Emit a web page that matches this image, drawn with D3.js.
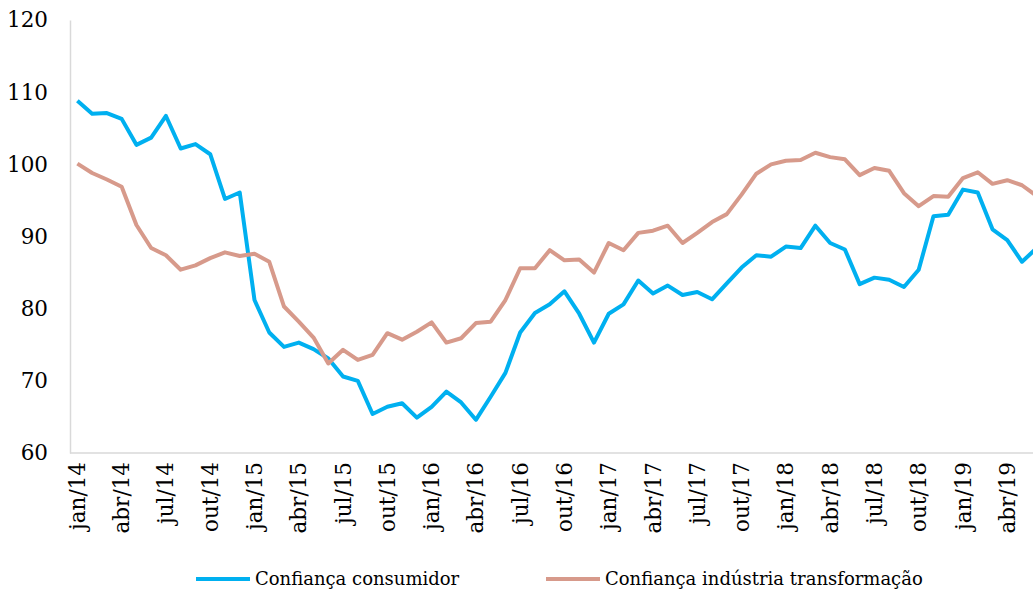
<!DOCTYPE html>
<html>
<head>
<meta charset="utf-8">
<script src="https://cdn.jsdelivr.net/npm/d3@7"></script>
<style>
  body { margin: 0; background: #fff; }
  svg { display: block; font-family: 'DejaVu Serif', serif; }
  .axis path { stroke: #d9d9d9; stroke-width: 1.5; }
  .axis text { fill: #000; }
</style>
</head>
<body>
<div id="chart"></div>
<script>
const monthNames = ['jan', 'fev', 'mar', 'abr', 'mai', 'jun', 'jul', 'ago', 'set', 'out', 'nov', 'dez'];
const years = ['14', '15', '16', '17', '18', '19'];

// jan/14 .. jun/19
const months = [];
years.forEach(y => monthNames.forEach((m, i) => {
  if (y !== '19' || i < 6) months.push(`${m}/${y}`);
}));

const consumidor = [
  108.8, 107.0, 107.1, 106.3, 102.7, 103.7, 106.7, 102.2, 102.8, 101.4, 95.2, 96.1,
  81.2, 76.7, 74.7, 75.3, 74.4, 73.1, 70.6, 70.0, 65.4, 66.4, 66.9, 64.9,
  66.4, 68.5, 67.0, 64.6, 67.8, 71.1, 76.7, 79.4, 80.6, 82.4, 79.3, 75.3,
  79.3, 80.6, 83.9, 82.1, 83.2, 81.9, 82.3, 81.3, 83.5, 85.7, 87.4, 87.2,
  88.6, 88.4, 91.5, 89.1, 88.2, 83.4, 84.3, 84.0, 83.0, 85.4, 92.8, 93.0,
  96.5, 96.1, 91.0, 89.5, 86.5, 88.4
];

const industria = [
  100.1, 98.8, 97.9, 96.9, 91.6, 88.4, 87.4, 85.4, 86.0, 87.0, 87.8, 87.3,
  87.6, 86.5, 80.3, 78.2, 76.0, 72.4, 74.3, 72.9, 73.6, 76.6, 75.7, 76.8,
  78.1, 75.3, 75.9, 78.0, 78.2, 81.2, 85.6, 85.6, 88.1, 86.7, 86.8, 85.0,
  89.1, 88.1, 90.5, 90.8, 91.5, 89.1, 90.5, 92.0, 93.1, 95.8, 98.7, 100.0,
  100.5, 100.6, 101.6, 101.0, 100.7, 98.5, 99.5, 99.1, 96.0, 94.2, 95.6, 95.5,
  98.1, 98.9, 97.3, 97.8, 97.1, 95.6
];

const yTicks = [60, 70, 80, 90, 100, 110, 120];

const series = [
  { name: 'Confiança consumidor', values: consumidor, color: '#00b0f0' },
  { name: 'Confiança indústria transformação', values: industria, color: '#d79a8b' }
];

const width = 1033;
const height = 591;
const margin = { left: 70, top: 20, bottom: 453 };
const step = 14.76;

const svg = d3.select('#chart')
  .append('svg')
    .attr('width', width)
    .attr('height', height);

const x = d3.scaleBand()
  .domain(months)
  .range([margin.left, margin.left + months.length * step])
  .padding(0);

const y = d3.scaleLinear()
  .domain([60, 120])
  .range([margin.bottom, margin.top]);

const xAxis = d3.axisBottom(x)
  .tickValues(months.filter((d, i) => i % 3 === 0))
  .tickSize(0)
  .tickPadding(0);

const yAxis = d3.axisLeft(y)
  .tickValues(yTicks)
  .tickSize(0)
  .tickPadding(22);

svg.append('g')
    .attr('class', 'axis axis--y')
    .attr('transform', `translate(${margin.left}, 0)`)
    .call(yAxis)
    .attr('font-family', null)
    .attr('font-size', 21.5);

svg.append('g')
    .attr('class', 'axis axis--x')
    .attr('transform', `translate(0, ${margin.bottom})`)
    .call(xAxis)
    .attr('font-family', null)
    .attr('font-size', 21.5)
  .call(g => g.select('.domain').attr('d', `M${margin.left},0H${width + 20}`))
  .call(g => g.selectAll('text')
    .attr('text-anchor', 'end')
    .attr('transform', 'rotate(-90)')
    .attr('x', -9)
    .attr('y', 0)
    .attr('dy', '0.35em'));

const line = d3.line()
  .x((d, i) => x(months[i]) + x.bandwidth() / 2)
  .y(d => y(d));

svg.selectAll('.series')
  .data(series)
  .enter()
  .append('path')
    .attr('class', 'series')
    .attr('fill', 'none')
    .attr('stroke', d => d.color)
    .attr('stroke-width', 4)
    .attr('stroke-linejoin', 'round')
    .attr('d', d => line(d.values));

const legend = svg.append('g')
  .attr('class', 'legend');

const legendX = [196, 546];

const item = legend.selectAll('.legend__item')
  .data(series)
  .enter()
  .append('g')
    .attr('class', 'legend__item')
    .attr('transform', (d, i) => `translate(${legendX[i]}, 579)`);

item.append('line')
  .attr('x1', 0)
  .attr('x2', 54)
  .attr('stroke', d => d.color)
  .attr('stroke-width', 4);

item.append('text')
  .attr('x', 59)
  .attr('dy', '0.35em')
  .style('font-size', '18px')
  .text(d => d.name);
</script>
</body>
</html>
